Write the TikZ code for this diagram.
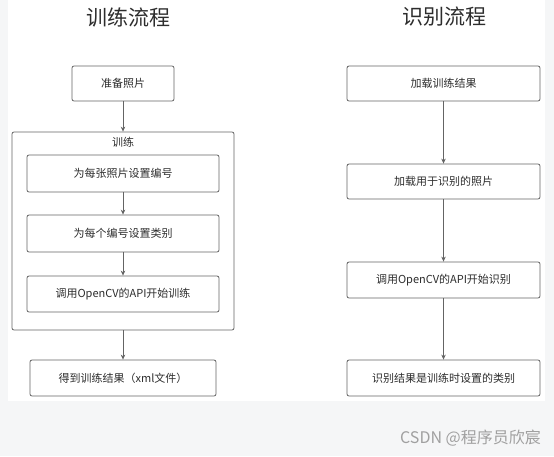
\documentclass[tikz,border=0pt]{standalone}
\usepackage{fontspec}
\setmainfont{Noto Sans CJK SC}
\usetikzlibrary{arrows.meta}
\definecolor{pagegray}{RGB}{245, 246, 247}
\definecolor{linegray}{RGB}{100, 100, 100}
\definecolor{textgray}{RGB}{45, 45, 45}
\definecolor{markgray}{RGB}{160, 160, 160}

\tikzset{
  stepbox/.style={draw=linegray, line width=0.8pt, rounded corners=2pt, fill=white,
    minimum height=36pt, inner sep=2pt, text=textgray, font=\fontsize{11}{13}\selectfont},
  flowarrow/.style={-{Stealth[length=5pt, width=4.5pt]}, draw=linegray, line width=0.8pt},
  flowtitle/.style={text=textgray, font=\fontsize{21}{25}\selectfont}
}

\begin{document}
\begin{tikzpicture}[x=1pt, y=-1pt]
    % page and panel
    \useasboundingbox (0,0) rectangle (554,456);
    \fill[pagegray] (0,0) rectangle (554,456);
    \fill[white] (8,0) rectangle (545,401);

    % Training flow
    \node[flowtitle] (traintitle) at (128,17) {训练流程};
    \node[stepbox, minimum width=102pt, minimum height=35pt] (prep) at (123,83.5) {准备照片};
    \node[draw=linegray, line width=0.8pt, rounded corners=2pt, minimum width=222pt, minimum height=198pt] (trainframe) at (123,231) {};
    \node[text=textgray, font=\fontsize{11}{13}\selectfont] (trainlabel) at (123,142) {训练};
    \node[stepbox, minimum width=192pt, minimum height=37pt] (numbering) at (123,173.5) {为每张照片设置编号};
    \node[stepbox, minimum width=192pt, minimum height=37pt] (labeling) at (123,233.5) {为每个编号设置类别};
    \node[stepbox, minimum width=192pt, minimum height=36pt] (traincall) at (123,294) {调用OpenCV的API开始训练};
    \node[stepbox, minimum width=186pt, minimum height=36pt] (trainresult) at (123,378) {得到训练结果（xml文件）};

    \draw[flowarrow] (prep) -- (trainframe.north);
    \draw[flowarrow] (numbering) -- (labeling);
    \draw[flowarrow] (labeling) -- (traincall);
    \draw[flowarrow] (trainframe.south) -- (trainresult);

    % Recognition flow
    \node[flowtitle] (recogtitle) at (444,17) {识别流程};
    \node[stepbox, minimum width=193pt, minimum height=35pt] (loadmodel) at (443.5,83.5) {加载训练结果};
    \node[stepbox, minimum width=193pt, minimum height=35pt] (loadphoto) at (443.5,181.5) {加载用于识别的照片};
    \node[stepbox, minimum width=193pt, minimum height=36pt] (recogcall) at (443.5,280) {调用OpenCV的API开始识别};
    \node[stepbox, minimum width=193pt, minimum height=36pt] (recogresult) at (443.5,378) {识别结果是训练时设置的类别};

    \draw[flowarrow] (loadmodel) -- (loadphoto);
    \draw[flowarrow] (loadphoto) -- (recogcall);
    \draw[flowarrow] (recogcall) -- (recogresult);

    % watermark
    \node[text=markgray, font=\fontsize{16}{18}\selectfont, anchor=east, inner sep=0pt] (watermark) at (541,438) {CSDN @程序员欣宸};
\end{tikzpicture}
\end{document}
